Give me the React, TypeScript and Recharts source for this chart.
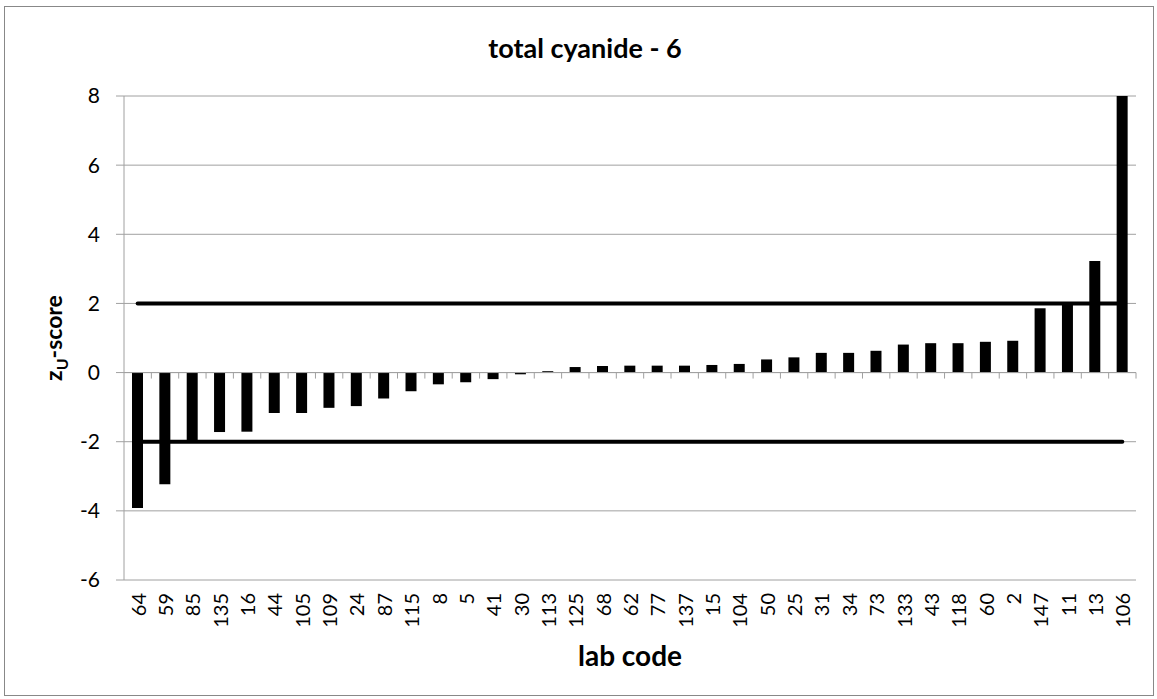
import { ComposedChart, Bar, Line, XAxis, YAxis, CartesianGrid, ReferenceLine } from "recharts";

const labCodes = [
  "64", "59", "85", "135", "16", "44", "105", "109", "24", "87", "115", "8", "5",
  "41", "30", "113", "125", "68", "62", "77", "137", "15", "104", "50", "25", "31",
  "34", "73", "133", "43", "118", "60", "2", "147", "11", "13", "106",
];

const zScores = [
  -3.92, -3.23, -1.98, -1.72, -1.71, -1.17, -1.17, -1.02, -0.97, -0.75, -0.54, -0.34, -0.28,
  -0.19, -0.05, 0.04, 0.16, 0.19, 0.2, 0.2, 0.2, 0.22, 0.25, 0.38, 0.44, 0.57,
  0.57, 0.63, 0.81, 0.85, 0.85, 0.89, 0.92, 1.86, 2.03, 3.23, 8.9,
];

const upperLimit = 2;
const lowerLimit = -2;
const yTicks = [-6, -4, -2, 0, 2, 4, 6, 8];

const data = labCodes.map((lab, i) => ({
  lab,
  z: zScores[i],
  upper: upperLimit,
  lower: lowerLimit,
}));

const FONT = "Lato, 'Open Sans', sans-serif";
const GREY = "#a0a0a0";

function LabTick({ x, y, payload }: any) {
  return (
    <text
      x={x}
      y={y}
      transform={`rotate(-90 ${x} ${y})`}
      textAnchor="end"
      dominantBaseline="central"
      fontSize={20}
      fontFamily={FONT}
      fill="#000"
    >
      {payload.value}
    </text>
  );
}

// zero axis with tick marks between categories, like the category axis crossing at 0
function ZeroAxis(props: any) {
  const { x1, y1, x2, y2 } = props;
  if (x1 == null) return null;
  const step = (x2 - x1) / labCodes.length;
  return (
    <g>
      <line x1={x1} y1={y1} x2={x2} y2={y2} stroke={GREY} strokeWidth={1} />
      {labCodes.map((_, i) => (
        <line
          key={i}
          x1={x1 + (i + 1) * step}
          x2={x1 + (i + 1) * step}
          y1={y1}
          y2={y1 + 6}
          stroke={GREY}
          strokeWidth={1}
        />
      ))}
    </g>
  );
}

export default function App() {
  return (
    <div style={{ position: "absolute", left: 0, top: 0, width: 1157, height: 699, background: "#fff", fontFamily: FONT }}>
      <div
        style={{
          position: "absolute",
          left: 4,
          top: 6,
          width: 1148,
          height: 688,
          border: "1px solid #888",
        }}
      />
      <div
        style={{
          position: "absolute",
          left: 585,
          top: 47,
          transform: "translate(-50%, -50%)",
          fontWeight: 700,
          fontSize: 27,
          whiteSpace: "nowrap",
        }}
      >
        total cyanide - 6
      </div>
      <div
        style={{
          position: "absolute",
          left: 55,
          top: 338,
          transform: "translate(-50%, -50%) rotate(-90deg)",
          fontWeight: 700,
          fontSize: 23,
          whiteSpace: "nowrap",
        }}
      >
        z<sub style={{ fontSize: 16 }}>U</sub>-score
      </div>
      <div
        style={{
          position: "absolute",
          left: 630,
          top: 655,
          transform: "translate(-50%, -50%)",
          fontWeight: 700,
          fontSize: 28,
          whiteSpace: "nowrap",
        }}
      >
        lab code
      </div>
      <ComposedChart
        width={1157}
        height={699}
        data={data}
        margin={{ top: 96, right: 21, left: 64, bottom: 39 }}
        style={{ position: "absolute", left: 0, top: 0 }}
      >
        <CartesianGrid horizontal vertical={false} stroke={GREY} strokeWidth={1} />
        <XAxis
          dataKey="lab"
          interval={0}
          height={80}
          axisLine={false}
          tickLine={false}
          tickSize={0}
          tickMargin={13}
          tick={<LabTick />}
        />
        <YAxis
          width={60}
          domain={[-6, 8]}
          ticks={yTicks}
          allowDataOverflow
          axisLine={{ stroke: GREY }}
          tickLine={{ stroke: GREY }}
          tickSize={8}
          tickMargin={16}
          tick={{ fill: "#000", fontSize: 21, fontFamily: FONT }}
        />
        <ReferenceLine y={0} shape={<ZeroAxis />} />
        <Bar dataKey="z" fill="#000" barSize={11} isAnimationActive={false} />
        <Line
          dataKey="upper"
          stroke="#000"
          strokeWidth={4}
          strokeLinecap="round"
          dot={false}
          activeDot={false}
          isAnimationActive={false}
        />
        <Line
          dataKey="lower"
          stroke="#000"
          strokeWidth={4}
          strokeLinecap="round"
          dot={false}
          activeDot={false}
          isAnimationActive={false}
        />
      </ComposedChart>
    </div>
  );
}
